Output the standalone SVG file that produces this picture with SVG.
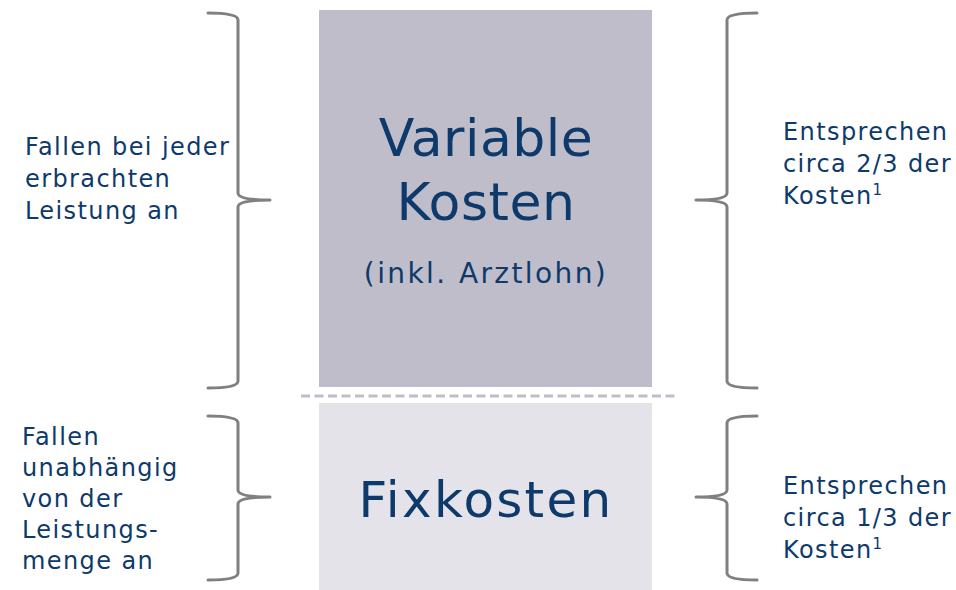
<svg xmlns="http://www.w3.org/2000/svg" width="956" height="590" viewBox="0 0 956 590">
<style>
.t{font-family:"DejaVu Sans",Verdana,sans-serif;fill:#0d3a6b}
.s{font-size:24px;letter-spacing:1.4px}
.big{font-size:52px;text-anchor:middle;letter-spacing:0.5px}
.fix{font-size:50px;text-anchor:middle;letter-spacing:2.3px}
.mid{font-size:28px;text-anchor:middle;letter-spacing:2.4px}
.br{fill:none;stroke:#808080;stroke-width:3;stroke-linecap:round;stroke-linejoin:round}
</style>
<rect width="956" height="590" fill="#ffffff"/>
<g id="variable">
<rect x="319" y="10" width="333" height="377" fill="#c0bdca"/>
<text class="t big" x="486" y="156">Variable</text>
<text class="t big" x="486" y="220">Kosten</text>
<text class="t mid" x="486" y="283">(inkl. Arztlohn)</text>
</g>
<g id="fix">
<rect x="319" y="403" width="333" height="187" fill="#e4e3ea"/>
<text class="t fix" x="486" y="517">Fixkosten</text>
</g>
<g id="connectors">
<line x1="301" y1="396" x2="678" y2="396" stroke="#c0bdca" stroke-width="3" stroke-dasharray="9 4.5"/>
<path class="br" d="M208,13 Q238,13 238,20 L238,193 Q238,200 270,200 Q238,200 238,207 L238,381 Q238,388 208,388"/>
<path class="br" d="M208,416 Q238,416 238,423 L238,490 Q238,497 270,497 Q238,497 238,504 L238,573 Q238,580 208,580"/>
<path class="br" d="M757,13 Q727,13 727,20 L727,193 Q727,200 696,200 Q727,200 727,207 L727,381 Q727,388 757,388"/>
<path class="br" d="M757,416 Q727,416 727,423 L727,490 Q727,497 696,497 Q727,497 727,504 L727,573 Q727,580 757,580"/>
</g>
<g id="left-top">
<text class="t s" x="25" y="155">Fallen bei jeder</text>
<text class="t s" x="25" y="187">erbrachten</text>
<text class="t s" x="25" y="219">Leistung an</text>
</g>
<g id="left-bottom">
<text class="t s" x="22" y="445">Fallen</text>
<text class="t s" x="22" y="476">unabhängig</text>
<text class="t s" x="22" y="507">von der</text>
<text class="t s" x="22" y="538">Leistungs-</text>
<text class="t s" x="22" y="569">menge an</text>
</g>
<g id="right-top">
<text class="t s" x="783" y="140">Entsprechen</text>
<text class="t s" x="783" y="172">circa 2/3 der</text>
<text class="t s" x="783" y="204">Kosten<tspan font-size="15" dy="-9" letter-spacing="0">1</tspan></text>
</g>
<g id="right-bottom">
<text class="t s" x="783" y="494">Entsprechen</text>
<text class="t s" x="783" y="526">circa 1/3 der</text>
<text class="t s" x="783" y="558">Kosten<tspan font-size="15" dy="-9" letter-spacing="0">1</tspan></text>
</g>
</svg>
